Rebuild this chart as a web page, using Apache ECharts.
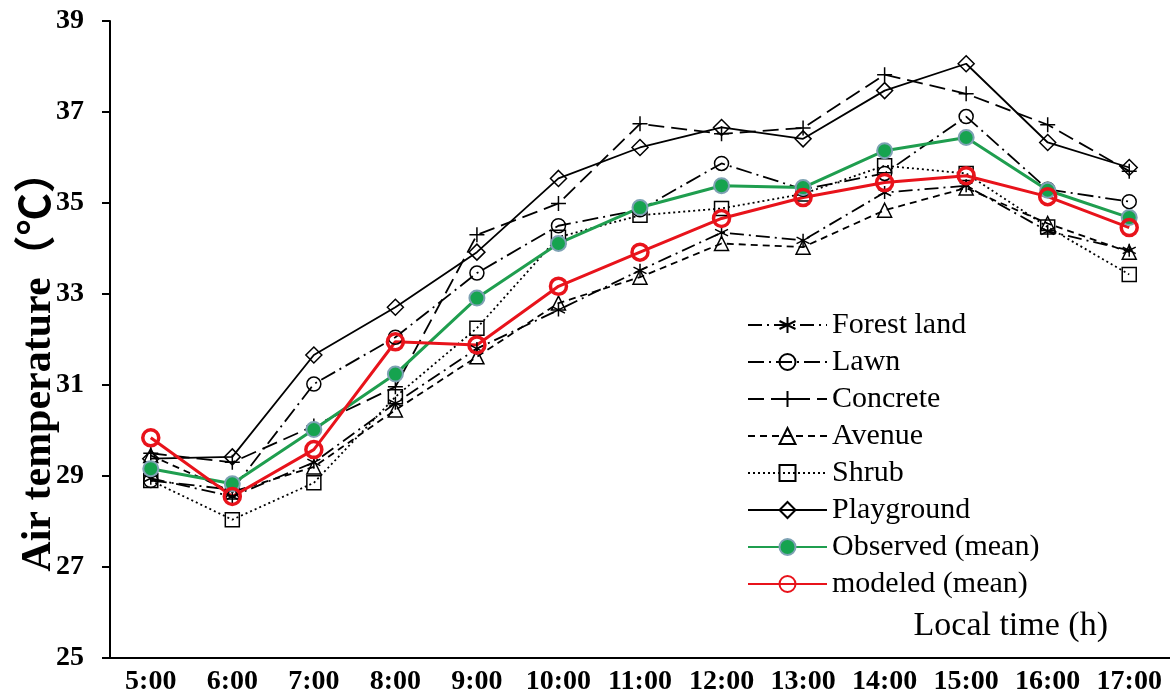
<!DOCTYPE html>
<html>
<head>
<meta charset="utf-8">
<title>Air temperature</title>
<script src="https://cdn.jsdelivr.net/npm/echarts@6/dist/echarts.min.js"></script>
<style>
    html, body { margin: 0; padding: 0; background: #fff; }
    #chart { width: 1170px; height: 699px; }
</style>
</head>
<body>
<div id="chart"></div>
<script>
    var hours = ['5:00', '6:00', '7:00', '8:00', '9:00', '10:00', '11:00', '12:00', '13:00', '14:00', '15:00', '16:00', '17:00'];

    var forestLand = [28.95, 28.55, 29.3, 30.6, 31.8, 32.65, 33.52, 34.35, 34.18, 35.23, 35.38, 34.38, 33.96];
    var lawn = [28.9, 28.7, 31.02, 32.05, 33.46, 34.5, 34.85, 35.87, 35.3, 35.65, 36.9, 35.3, 35.03];
    var concrete = [29.5, 29.3, 30.1, 30.96, 34.3, 34.99, 36.74, 36.52, 36.65, 37.82, 37.4, 36.72, 35.7];
    var avenue = [29.45, 28.65, 29.2, 30.45, 31.62, 32.8, 33.37, 34.11, 34.03, 34.84, 35.33, 34.55, 33.92];
    var shrub = [28.9, 28.04, 28.85, 30.74, 32.25, 34.25, 34.73, 34.88, 35.2, 35.82, 35.65, 34.47, 33.43];
    var playground = [29.38, 29.42, 31.66, 32.71, 33.92, 35.54, 36.22, 36.66, 36.41, 37.47, 38.06, 36.33, 35.78];
    var observedMean = [29.16, 28.83, 30.02, 31.24, 32.91, 34.11, 34.9, 35.38, 35.34, 36.15, 36.44, 35.28, 34.68];
    var modeledMean = [29.84, 28.55, 29.58, 31.95, 31.88, 33.17, 33.92, 34.66, 35.12, 35.45, 35.6, 35.14, 34.46];

    var serif = "'Liberation Serif', 'Times New Roman', serif";

    // black reference series, hollow markers
    function blackLine(name, data, symbol, size, dash) {
        return {
            name: name,
            type: 'line',
            data: data,
            symbol: symbol,
            symbolSize: size,
            lineStyle: { color: '#000', width: 1.8, type: dash },
            itemStyle: { color: 'rgba(255,255,255,0)', borderColor: '#000', borderWidth: 1.5 },
            emphasis: { disabled: true }
        };
    }

    var asterisk = 'path://M0,-6L0,6M-5.2,-3L5.2,3M-5.2,3L5.2,-3';
    var plus = 'path://M0,-7L0,7M-7,0L7,0';

    var option = {
        animation: false,
        // x axis title sits inside the plot, above the axis end
        title: {
            text: 'Local time (h)',
            right: 62,
            top: 609,
            padding: 0,
            textStyle: { fontFamily: serif, fontSize: 34, fontWeight: 'normal', color: '#000' }
        },
        grid: { left: 110, right: 0, top: 21, bottom: 41, outerBoundsMode: 'none' },
        legend: {
            orient: 'vertical',
            left: 742,
            top: 305,
            itemWidth: 79,
            itemHeight: 20,
            itemGap: 7,
            textStyle: { fontFamily: serif, fontSize: 30, color: '#000' }
        },
        xAxis: {
            type: 'category',
            data: hours,
            boundaryGap: true,
            axisLine: { lineStyle: { color: '#000', width: 2 } },
            axisTick: { length: 8, lineStyle: { color: '#000', width: 2 } },
            axisLabel: {
                interval: 0, hideOverlap: false,
                fontFamily: serif, fontSize: 28, fontWeight: 'bold', color: '#000', margin: 10
            },
            splitLine: { show: false }
        },
        yAxis: {
            type: 'value',
            min: 25,
            max: 39,
            interval: 2,
            name: 'Air temperature（℃）',
            nameLocation: 'middle',
            nameGap: 50,
            nameMoveOverlap: false,
            nameTextStyle: {
                fontFamily: "'Liberation Serif', 'Noto Sans CJK SC', serif",
                fontSize: 42, fontWeight: 'bold', color: '#000', padding: [0, 44, 0, 0]
            },
            axisLine: { show: true, lineStyle: { color: '#000', width: 2 } },
            axisTick: { show: true, length: 8, lineStyle: { color: '#000', width: 2 } },
            axisLabel: { fontFamily: serif, fontSize: 28, fontWeight: 'bold', color: '#000', margin: 26 },
            splitLine: { show: false }
        },
        series: [
            blackLine('Forest land', forestLand, asterisk, 13, [14, 5, 2, 5]),
            blackLine('Lawn', lawn, 'circle', 14, [16, 5, 2, 5]),
            blackLine('Concrete', concrete, plus, 15, [16, 7]),
            blackLine('Avenue', avenue, 'triangle', 14, [7, 5]),
            blackLine('Shrub', shrub, 'rect', 14, [2, 3]),
            blackLine('Playground', playground, 'diamond', 16, 'solid'),
            {
                name: 'Observed (mean)',
                type: 'line',
                data: observedMean,
                symbol: 'circle',
                symbolSize: 15,
                lineStyle: { color: '#1f9e4f', width: 3 },
                itemStyle: { color: '#16a34f', borderColor: '#7ea2b4', borderWidth: 2 },
                emphasis: { disabled: true }
            },
            {
                name: 'modeled (mean)',
                type: 'line',
                data: modeledMean,
                symbol: 'circle',
                symbolSize: 16,
                lineStyle: { color: '#e8131b', width: 3 },
                itemStyle: { color: 'rgba(255,255,255,0)', borderColor: '#e8131b', borderWidth: 3.5 },
                emphasis: { disabled: true }
            }
        ]
    };

    var chart = echarts.init(document.getElementById('chart'));
    chart.setOption(option);

    window.addEventListener('resize', function () {
        chart.resize();
    });
</script>
</body>
</html>
